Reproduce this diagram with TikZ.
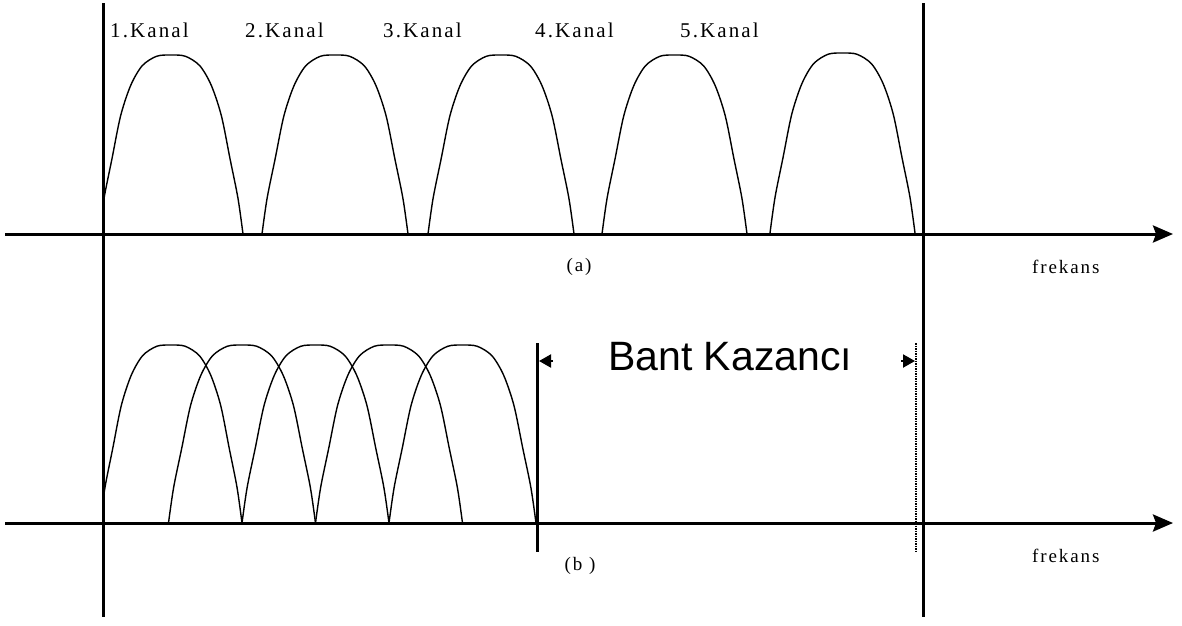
\documentclass[tikz,border=0pt]{standalone}
\usepackage{fontspec}
\setmainfont{Liberation Serif}
\newfontfamily\lblfont[LetterSpace=10]{Liberation Serif}
\newfontfamily\sansf{Liberation Sans}
\usetikzlibrary{arrows.meta}
\tikzset{
  axisline/.style={line width=3pt, -{Stealth[length=20pt,width=17pt,inset=3pt]}},
  vline/.style={line width=3pt},
  curve/.style={line width=1.4pt},
  lbl/.style={font=\lblfont\fontsize{21}{24}\selectfont, inner sep=0pt},
  small/.style={font=\lblfont\fontsize{19}{22}\selectfont, inner sep=0pt},
  bandline/.style={line width=2.5pt},
  marker/.style={line width=2pt, -{Triangle[length=12pt,width=13pt]}}
}
\newcommand{\hump}[4]{% left, right, base, peak
  \pgfmathsetmacro{\hw}{#2-#1}\pgfmathsetmacro{\hh}{#3-#4}
  \begin{scope}[shift={(#1,#3)}, xscale=\hw, yscale=-\hh]
    \draw[curve] plot[smooth, tension=0.5] coordinates {(0,0) (0.035,0.2) (0.09,0.42) (0.15,0.66) (0.22,0.83) (0.30,0.94) (0.40,0.993) (0.5,1) (0.60,0.993) (0.70,0.94) (0.78,0.83) (0.85,0.66) (0.91,0.42) (0.965,0.2) (1,0)};
  \end{scope}}
\begin{document}
\begin{tikzpicture}[x=1pt,y=-1pt]
\useasboundingbox (0,0) rectangle (1182,625);
% humps (a) and (b)
\begin{scope}
  \clip (103,0) rectangle (1182,625);
  \hump{99}{243}{234}{55}
  \hump{262}{408}{234}{55}
  \hump{428}{574}{234}{55}
  \hump{602}{747}{234}{55}
  \hump{770}{915}{233}{53}
  \hump{100}{242}{523}{345}
  \hump{168.5}{315.5}{523}{345}
  \hump{242}{389}{523}{345}
  \hump{315.5}{462.5}{523}{345}
  \hump{389}{536}{523}{345}
\end{scope}
% frame lines
\coordinate (lt) at (103,3); \coordinate (lb) at (103,617);
\coordinate (rt) at (923,3); \coordinate (rb) at (923,617);
\draw[vline] (lt) -- (lb);
\draw[vline] (rt) -- (rb);
\coordinate (a0) at (5,234); \coordinate (a1) at (1173,234);
\coordinate (b0) at (5,523); \coordinate (b1) at (1173,523);
\draw[axisline] (a0) -- (a1);
\draw[axisline] (b0) -- (b1);
% band gain
\coordinate (g1t) at (537.5,343); \coordinate (g1b) at (537.5,552);
\coordinate (g2t) at (916,343); \coordinate (g2b) at (916,553);
\draw[bandline] (g1t) -- (g1b);
\draw[line width=2pt, dash pattern=on 1.5pt off 1pt] (g2t) -- (g2b);
\coordinate (m1s) at (553,361); \coordinate (m1e) at (539,361);
\coordinate (m2s) at (901,361); \coordinate (m2e) at (915,361);
\draw[marker] (m1s) -- (m1e);
\draw[marker] (m2s) -- (m2e);
\node[font=\sansf\fontsize{41}{48}\selectfont, inner sep=0pt, anchor=base west] (bk) at (608,370) {Bant Kazancı};
% labels
\node[lbl, anchor=base west] (k1) at (110,37) {1.Kanal};
\node[lbl, anchor=base west] (k2) at (245,37) {2.Kanal};
\node[lbl, anchor=base west] (k3) at (383,37) {3.Kanal};
\node[lbl, anchor=base west] (k4) at (535,37) {4.Kanal};
\node[lbl, anchor=base west] (k5) at (680,37) {5.Kanal};
\node[small] (la) at (579,267) {(a)};
\node[small] (lb2) at (580,566) {(b )};
\node[small, anchor=base west] (f1) at (1032,273) {frekans};
\node[small, anchor=base west] (f2) at (1032,562) {frekans};
\end{tikzpicture}
\end{document}
